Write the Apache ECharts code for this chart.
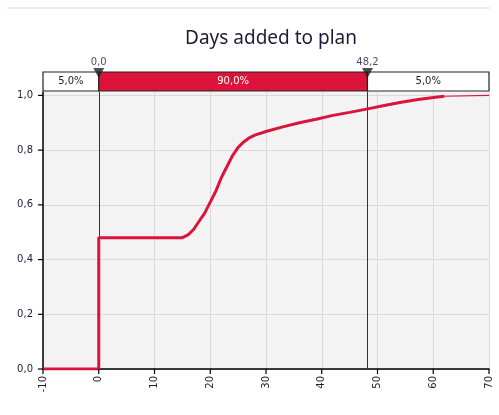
<!DOCTYPE html>
<html>
<head>
<meta charset="utf-8">
<script src="https://cdn.jsdelivr.net/npm/echarts@6/dist/echarts.min.js"></script>
<style>
  html, body { margin: 0; padding: 0; background: #ffffff; }
  #chart { width: 499px; height: 415px; }
</style>
</head>
<body>
<div id="chart"></div>
<script>
// Cumulative probability of days added to the plan
const cdfDays = [-10, 0, 0, 15, 16, 17, 18, 19, 20, 21, 22, 23, 24, 25, 26, 27, 28, 30, 33, 36, 39, 42, 45, 48, 51, 54, 57, 60, 62];
const cdfProb = [0, 0, 0.48, 0.48, 0.49, 0.51, 0.54, 0.57, 0.61, 0.65, 0.70, 0.74, 0.78, 0.81, 0.83, 0.845, 0.855, 0.868, 0.885, 0.90, 0.913, 0.927, 0.938, 0.95, 0.962, 0.974, 0.984, 0.992, 0.997];
const tailDays = [62, 70];
const tailProb = [0.997, 1.0];

// Delimiters of the 5% / 90% / 5% band
const markerValues = [0.0, 48.2];
const bandStart = [-10, 0.0, 48.2];
const bandEnd = [0.0, 48.2, 70];
const bandLabels = ['5,0%', '90,0%', '5,0%'];
const bandFill = ['#ffffff', '#dc143c', '#ffffff'];
const bandText = ['#222222', '#ffffff', '#222222'];

// Axis tick positions
const xTickValues = [-10, 0, 10, 20, 30, 40, 50, 60, 70];
const yTickValues = [0, 0.2, 0.4, 0.6, 0.8, 1.0];

const xTicks = { min: -10, max: 70, interval: 10 };
const yTicks = { min: 0, max: 1.0, interval: 0.2 };

const RED = '#dc143c';
const txt = '#1c1c38';
const FONT = 'DejaVu Sans';
const comma = v => String(v).replace('.', ',');

const chart = echarts.init(document.getElementById('chart'), null, { renderer: 'canvas' });

const mainLine = cdfDays.map((d, i) => [d, cdfProb[i]]);
const tailLine = tailDays.map((d, i) => [d, tailProb[i]]);
const bandData = bandStart.map((s, i) => [s, bandEnd[i], i]);

chart.setOption({
  animation: false,
  backgroundColor: '#ffffff',
  title: {
    text: 'Days added to plan',
    left: 266, top: 24, textAlign: 'center',
    textStyle: { fontFamily: 'Noto Sans', fontSize: 19, fontWeight: 'normal', color: '#1c1c38' }
  },
  grid: [
    { left: 43, right: 10, top: 92, bottom: 46, backgroundColor: '#f3f3f3', show: true, borderWidth: 0 },
    { left: 43, right: 10, top: 72, height: 19 }
  ],
  xAxis: [{
    type: 'value', gridIndex: 0,
    min: xTicks.min, max: xTicks.max, interval: xTicks.interval,
    axisLine: { show: true, onZero: false, lineStyle: { color: '#000', width: 1.5 } },
    axisTick: { show: false },
    splitLine: { show: true, lineStyle: { color: '#dadada', width: 1 } },
    axisLabel: { rotate: 90, color: txt, fontSize: 10, fontFamily: FONT, margin: 7, formatter: v => comma(v) }
  }, {
    type: 'value', gridIndex: 1, min: xTicks.min, max: xTicks.max, show: false
  }],
  yAxis: [{
    type: 'value', gridIndex: 0,
    min: yTicks.min, max: 1.0125, interval: yTicks.interval,
    axisLine: { show: true, onZero: false, lineStyle: { color: '#000', width: 1.5 } },
    axisTick: { show: false },
    splitLine: { show: true, showMaxLine: false, lineStyle: { color: '#dadada', width: 1 } },
    axisLabel: {
      color: txt, fontSize: 10, fontFamily: FONT, margin: 10, showMaxLabel: false,
      formatter: v => (Math.abs(v * 5 - Math.round(v * 5)) < 1e-6 ? v.toFixed(1).replace('.', ',') : '')
    }
  }, {
    type: 'value', gridIndex: 1, min: 0, max: 1, show: false
  }],
  series: [
    {
      type: 'line', xAxisIndex: 0, yAxisIndex: 0,
      data: mainLine, showSymbol: false, smooth: false,
      lineStyle: { color: RED, width: 3 },
      markLine: {
        silent: true, symbol: 'none', label: { show: false },
        lineStyle: { color: '#333333', width: 1, type: 'solid' },
        data: markerValues.map(v => ({ xAxis: v }))
      },
      z: 5
    },
    {
      type: 'line', xAxisIndex: 0, yAxisIndex: 0,
      data: tailLine, showSymbol: false,
      lineStyle: { color: RED, width: 1.2 }, z: 5
    },
    {
      type: 'custom', xAxisIndex: 1, yAxisIndex: 1,
      data: bandData,
      renderItem: (params, api) => {
        const i = api.value(2);
        const p0 = api.coord([api.value(0), 1]);
        const p1 = api.coord([api.value(1), 0]);
        return {
          type: 'rect',
          shape: { x: p0[0], y: p0[1], width: p1[0] - p0[0], height: p1[1] - p0[1] },
          style: {
            fill: bandFill[i], stroke: '#222222', lineWidth: 1.2,
            text: bandLabels[i], textFill: bandText[i],
            fontSize: 10, fontFamily: FONT, textPosition: 'inside'
          }
        };
      },
      z: 3
    },
    {
      type: 'scatter', xAxisIndex: 1, yAxisIndex: 1,
      data: markerValues.map(v => [v, 0.95]),
      symbol: 'triangle', symbolRotate: 180, symbolSize: [11, 10],
      itemStyle: { color: '#222222' },
      label: {
        show: true, position: 'top', distance: 1,
        color: txt, fontSize: 10, fontFamily: FONT,
        formatter: p => p.value[0].toFixed(1).replace('.', ',')
      },
      z: 6
    }
  ]
});

// Outward tick marks placed through the axis scales, plus the thin rule at the top
const tickGraphics = [];
xTickValues.forEach(v => {
  const p = chart.convertToPixel({ xAxisIndex: 0, yAxisIndex: 0 }, [v, 0]);
  tickGraphics.push({ type: 'line', z: 100, silent: true,
    shape: { x1: p[0], y1: p[1], x2: p[0], y2: p[1] + 5 },
    style: { stroke: '#000000', lineWidth: 1.2 } });
});
yTickValues.forEach(v => {
  const p = chart.convertToPixel({ xAxisIndex: 0, yAxisIndex: 0 }, [-10, v]);
  tickGraphics.push({ type: 'line', z: 100, silent: true,
    shape: { x1: p[0], y1: p[1], x2: p[0] - 5, y2: p[1] },
    style: { stroke: '#000000', lineWidth: 1.2 } });
});
tickGraphics.push({ type: 'line', silent: true, shape: { x1: 7, y1: 8, x2: 490, y2: 8 },
  style: { stroke: '#ebebeb', lineWidth: 2 } });
chart.setOption({ graphic: tickGraphics });
</script>
</body>
</html>
